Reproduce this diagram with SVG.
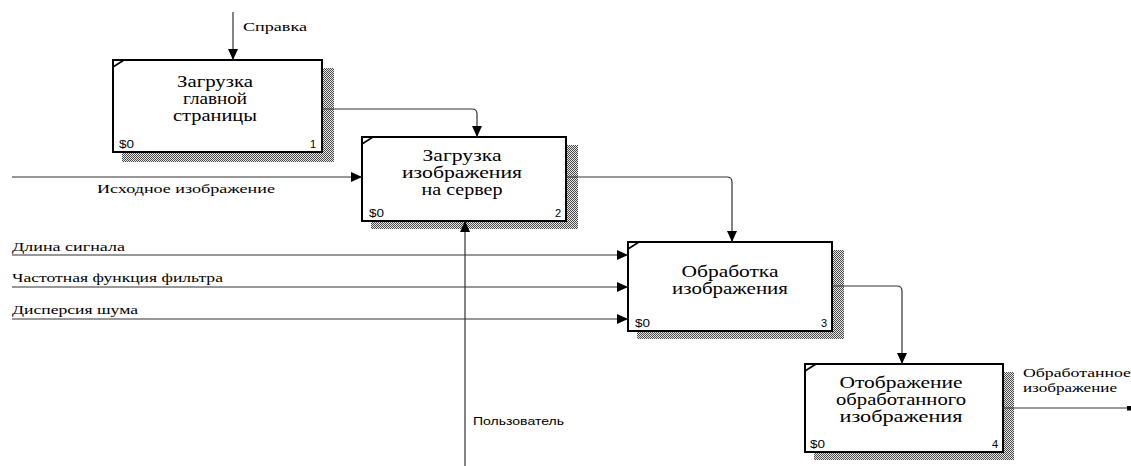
<svg xmlns="http://www.w3.org/2000/svg" width="1131" height="466" viewBox="0 0 1131 466">
<style>
.box{fill:#fff;stroke:#000;stroke-width:2}
.shadow{fill:url(#hatch);stroke:none}
.corner{stroke:#000;stroke-width:1.5;fill:none}
.title{font-size:16px;fill:#000;text-anchor:middle}
.lbl{font-size:13px;fill:#000}
.num{font-size:11px;fill:#000}
.sans{font-size:11px;fill:#000}
.conn{fill:none;stroke:#333;stroke-width:1.2}
</style>
<defs>
<pattern id="hatch" width="2" height="2" patternUnits="userSpaceOnUse">
<rect width="2" height="2" fill="#e6e6e6"/>
<rect width="1" height="1" fill="#4a4a4a"/>
<rect x="1" y="1" width="1" height="1" fill="#4a4a4a"/>
</pattern>
<marker id="arr" markerUnits="userSpaceOnUse" markerWidth="11" markerHeight="10" refX="11" refY="5" orient="auto">
<path d="M0,0 L11,5 L0,10 z" fill="#000"/>
</marker>
<marker id="sq" markerUnits="userSpaceOnUse" markerWidth="5" markerHeight="5" refX="4" refY="2.5" orient="auto">
<rect width="5" height="5" fill="#000"/>
</marker>
</defs>

<g id="node1">
<rect class="shadow" x="122" y="68" width="212" height="94"/>
<rect class="box" x="113" y="60" width="209" height="92"/>
<path class="corner" d="M113,67 L124,60"/>
<g font-family="Liberation Serif, serif">
<text class="title" x="215" y="87" textLength="76" lengthAdjust="spacingAndGlyphs">Загрузка</text>
<text class="title" x="215" y="104" textLength="64" lengthAdjust="spacingAndGlyphs">главной</text>
<text class="title" x="215" y="121" textLength="84" lengthAdjust="spacingAndGlyphs">страницы</text>
</g>
<g font-family="Liberation Sans, sans-serif">
<text class="num" x="119" y="148" textLength="15" lengthAdjust="spacingAndGlyphs">$0</text>
<text class="num" x="316" y="148" text-anchor="end">1</text>
</g>
</g>

<g id="node2">
<rect class="shadow" x="371" y="145" width="207" height="84"/>
<rect class="box" x="362" y="137" width="204" height="84"/>
<path class="corner" d="M362,144 L373,137"/>
<g font-family="Liberation Serif, serif">
<text class="title" x="462" y="161" textLength="79" lengthAdjust="spacingAndGlyphs">Загрузка</text>
<text class="title" x="462" y="178" textLength="120" lengthAdjust="spacingAndGlyphs">изображения</text>
<text class="title" x="462" y="195" textLength="81" lengthAdjust="spacingAndGlyphs">на сервер</text>
</g>
<g font-family="Liberation Sans, sans-serif">
<text class="num" x="369" y="217" textLength="15" lengthAdjust="spacingAndGlyphs">$0</text>
<text class="num" x="561" y="217" text-anchor="end">2</text>
</g>
</g>

<g id="node3">
<rect class="shadow" x="637" y="250" width="207" height="89"/>
<rect class="box" x="628" y="242" width="204" height="89"/>
<path class="corner" d="M628,249 L639,242"/>
<g font-family="Liberation Serif, serif">
<text class="title" x="730" y="277" textLength="97" lengthAdjust="spacingAndGlyphs">Обработка</text>
<text class="title" x="730" y="294" textLength="116" lengthAdjust="spacingAndGlyphs">изображения</text>
</g>
<g font-family="Liberation Sans, sans-serif">
<text class="num" x="635" y="327" textLength="15" lengthAdjust="spacingAndGlyphs">$0</text>
<text class="num" x="827" y="327" text-anchor="end">3</text>
</g>
</g>

<g id="node4">
<rect class="shadow" x="814" y="372" width="200" height="88"/>
<rect class="box" x="805" y="364" width="198" height="88"/>
<path class="corner" d="M805,371 L816,364"/>
<g font-family="Liberation Serif, serif">
<text class="title" x="901" y="388" textLength="123" lengthAdjust="spacingAndGlyphs">Отображение</text>
<text class="title" x="901" y="405" textLength="130" lengthAdjust="spacingAndGlyphs">обработанного</text>
<text class="title" x="901" y="422" textLength="123" lengthAdjust="spacingAndGlyphs">изображения</text>
</g>
<g font-family="Liberation Sans, sans-serif">
<text class="num" x="810" y="448" textLength="15" lengthAdjust="spacingAndGlyphs">$0</text>
<text class="num" x="998" y="448" text-anchor="end">4</text>
</g>
</g>

<g id="connectors">
<path class="conn" d="M233,12 V60" marker-end="url(#arr)"/>
<path class="conn" d="M322,109 H472 Q477,109 477,114 V137" marker-end="url(#arr)"/>
<path class="conn" d="M12,177 H362" marker-end="url(#arr)"/>
<path class="conn" d="M566,177 H727 Q732,177 732,182 V242" marker-end="url(#arr)"/>
<path class="conn" d="M12,255 H628" marker-end="url(#arr)"/>
<path class="conn" d="M12,287 H628" marker-end="url(#arr)"/>
<path class="conn" d="M12,319 H628" marker-end="url(#arr)"/>
<path class="conn" d="M465,466 V221" marker-end="url(#arr)"/>
<path class="conn" d="M832,286 H897 Q902,286 902,291 V364" marker-end="url(#arr)"/>
<path class="conn" d="M1003,408 H1131" marker-end="url(#sq)"/>
<g font-family="Liberation Serif, serif">
<text class="lbl" x="243" y="31" textLength="64" lengthAdjust="spacingAndGlyphs">Справка</text>
<text class="lbl" x="97" y="193" textLength="178" lengthAdjust="spacingAndGlyphs">Исходное изображение</text>
<text class="lbl" x="12" y="251" textLength="113" lengthAdjust="spacingAndGlyphs">Длина сигнала</text>
<text class="lbl" x="12" y="282" textLength="211" lengthAdjust="spacingAndGlyphs">Частотная функция фильтра</text>
<text class="lbl" x="12" y="314" textLength="126" lengthAdjust="spacingAndGlyphs">Дисперсия шума</text>
<text class="lbl" x="1023" y="377" textLength="108" lengthAdjust="spacingAndGlyphs">Обработанное</text>
<text class="lbl" x="1023" y="392" textLength="94" lengthAdjust="spacingAndGlyphs">изображение</text>
</g>
<text class="sans" font-family="Liberation Sans, sans-serif" x="473" y="425" textLength="91" lengthAdjust="spacingAndGlyphs">Пользователь</text>
</g>
</svg>
